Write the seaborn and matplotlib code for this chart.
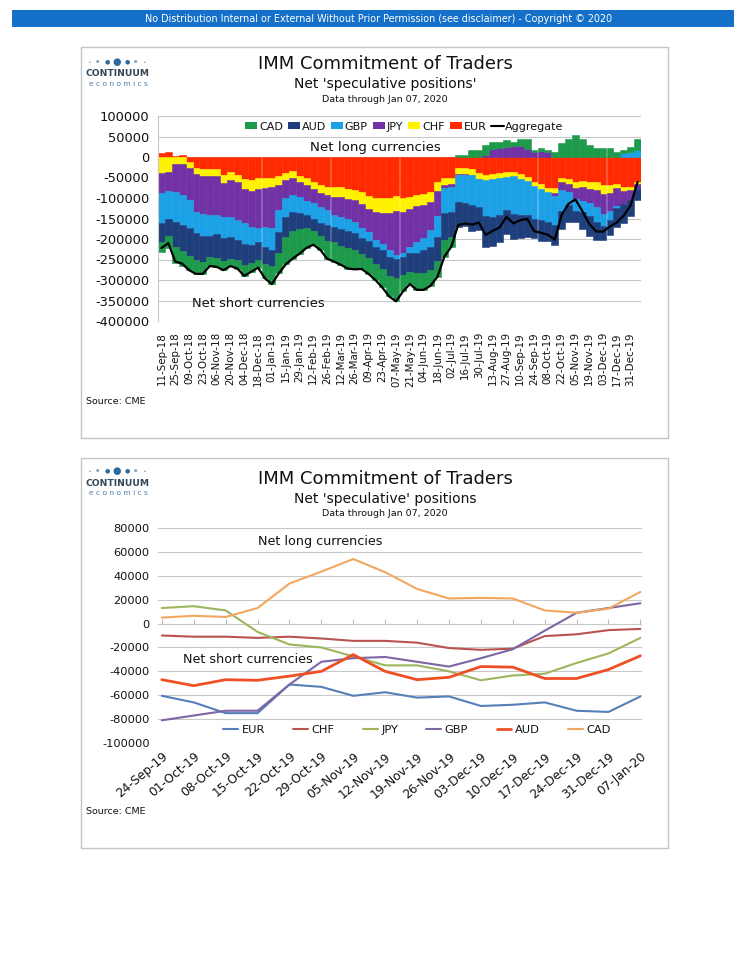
import numpy as np
import pandas as pd
import seaborn as sns
import matplotlib.pyplot as plt
from matplotlib.patches import Rectangle, Patch
from matplotlib.lines import Line2D

sns.set_style("white")
plt.rcParams['font.family'] = ['DejaVu Sans']
plt.rcParams['text.color'] = '#111111'
plt.rcParams['xtick.color'] = '#111111'
plt.rcParams['ytick.color'] = '#111111'

# Net speculative positions, thousands of contracts
# weekly 11-Sep-18 .. 17-Sep-19
eur_early = [10, 12, 3, 6, -12, -26, -30, -30, -30, -44,
             -36, -45, -53, -56, -52, -52, -50, -46, -38, -34,
             -46, -52, -60, -68, -72, -74, -74, -78, -80, -86,
             -96, -101, -101, -101, -96, -100, -98, -92, -90, -85,
             -62, -52, -50, -28, -28, -30, -40, -44, -42, -40,
             -36, -36, -42, -48]
chf_early = [-38, -36, -18, -16, -14, -16, -16, -17, -17, -19,
             -19, -17, -24, -26, -25, -24, -24, -22, -17, -16,
             -16, -16, -17, -20, -21, -24, -24, -25, -26, -28,
             -32, -34, -36, -36, -35, -33, -30, -28, -27, -25,
             -22, -16, -15, -14, -14, -13, -13, -12, -12, -12,
             -12, -11, -11, -10]
jpy_early = [-51, -46, -67, -77, -79, -91, -93, -94, -94, -83,
             -92, -92, -85, -88, -95, -94, -100, -61, -46, -43,
             -36, -39, -36, -33, -36, -43, -48, -47, -52, -60,
             -54, -67, -74, -90, -108, -102, -91, -87, -81, -68,
             -60, -8, -7, -3, -2, -2, -1, 5, 20, 22,
             24, 26, 28, 19]
gbp_early = [-73, -68, -73, -73, -69, -53, -54, -52, -47, -52,
             -47, -48, -49, -45, -35, -50, -52, -55, -45, -40,
             -38, -34, -37, -41, -37, -29, -30, -30, -28, -24,
             -24, -17, -16, -16, -10, -10, -16, -26, -30, -42,
             -50, -60, -62, -65, -68, -72, -68, -88, -92, -90,
             -82, -92, -88, -84]
aud_early = [-45, -43, -62, -64, -68, -66, -62, -52, -58, -56,
             -55, -49, -53, -44, -43, -40, -40, -50, -50, -47,
             -40, -33, -30, -30, -38, -38, -40, -42, -42, -38,
             -40, -42, -45, -47, -47, -42, -45, -50, -55, -56,
             -60, -66, -62, -61, -56, -64, -56, -75, -70, -66,
             -57, -60, -56, -52]
cad_early = [-25, -29, -38, -36, -34, -33, -30, -21, -22, -22,
             -17, -21, -26, -21, -20, -36, -44, -50, -66, -68,
             -60, -48, -34, -34, -44, -47, -47, -50, -46, -37,
             -39, -39, -46, -50, -56, -41, -30, -41, -41, -38,
             -38, -41, -23, 5, 6, 16, 18, 24, 16, 14,
             17, 11, 15, 24]

# weekly 24-Sep-19 .. 07-Jan-20
eur_recent = [-60.5, -66, -75, -75, -51, -53, -60.5, -57.5, -62, -61, -69, -68, -66, -73, -74, -61]
chf_recent = [-10, -11, -11, -12, -11, -12.5, -14.5, -14.5, -16, -20.5, -22, -21, -10.5, -9, -5.5, -4.5]
jpy_recent = [13, 14.5, 11, -7, -17.5, -20, -27.5, -35, -35, -40, -47.5, -43.5, -42, -33, -25, -12]
gbp_recent = [-81, -77, -73, -73, -51, -32, -29, -28, -32, -36, -29, -21.5, -6, 9, 13, 17]
aud_recent = [-47, -52, -47, -47.5, -44, -40, -26, -40, -47, -45, -36, -36.5, -46, -46, -38.5, -27]
cad_recent = [5, 6.5, 5.5, 13, 33.5, 43.5, 54, 43, 29, 21, 21.5, 21, 11, 9, 12.5, 26.5]

weeks = pd.date_range('2018-09-11', periods=70, freq='7D')
recent_weeks = pd.date_range('2019-09-24', periods=16, freq='7D')

stack_order = ['EUR', 'CHF', 'JPY', 'GBP', 'AUD', 'CAD']
bar_colors = {'CAD': '#1E9A4B', 'AUD': '#1F3E7C', 'GBP': '#1DA1E6',
              'JPY': '#7132A6', 'CHF': '#FFF200', 'EUR': '#FF2A00'}
line_colors = {'EUR': '#557FB8', 'CHF': '#B9534F', 'JPY': '#9DB65E',
               'GBP': '#7D66A3', 'AUD': '#EF4F24', 'CAD': '#F2A760'}

top = pd.DataFrame({
    'EUR': np.array(eur_early + eur_recent) * 1000,
    'CHF': np.array(chf_early + chf_recent) * 1000,
    'JPY': np.array(jpy_early + jpy_recent) * 1000,
    'GBP': np.array(gbp_early + gbp_recent) * 1000,
    'AUD': np.array(aud_early + aud_recent) * 1000,
    'CAD': np.array(cad_early + cad_recent) * 1000,
})
top['Aggregate'] = top[stack_order].sum(axis=1)

recent = pd.DataFrame({
    'idx': np.arange(len(recent_weeks)),
    'EUR': np.array(eur_recent) * 1000,
    'CHF': np.array(chf_recent) * 1000,
    'JPY': np.array(jpy_recent) * 1000,
    'GBP': np.array(gbp_recent) * 1000,
    'AUD': np.array(aud_recent) * 1000,
    'CAD': np.array(cad_recent) * 1000,
})
recent_long = recent.melt(id_vars='idx', var_name='Currency', value_name='Position')

W, H = 734, 960
fig = plt.figure(figsize=(W / 100, H / 100), dpi=100)


def px_rect(x0, y0, x1, y1):
    return [x0 / W, 1 - y1 / H, (x1 - x0) / W, (y1 - y0) / H]


def fig_xy(x, y):
    return x / W, 1 - y / H


# header band
fig.patches.append(Rectangle(fig_xy(12, 27), 722 / W, 17 / H, transform=fig.transFigure,
                             facecolor='#1470C8', edgecolor='none', zorder=-2))
fig.text(*fig_xy(379, 18.5), 'No Distribution Internal or External Without Prior Permission '
         '(see disclaimer) - Copyright \u00a9 2020', color='white', fontsize=6.9,
         ha='center', va='center')

# panel frames
for y0, y1 in [(47, 438), (458, 848)]:
    fig.patches.append(Rectangle(fig_xy(81, y1), 587 / W, (y1 - y0) / H, transform=fig.transFigure,
                                 facecolor='none', edgecolor='#C4C4C4', linewidth=1.0, zorder=-1))


def logo(y):
    dot_x = [90, 98, 107, 117, 127, 136, 145]
    dot_s = [1.3, 2.2, 3.4, 5.4, 3.4, 2.2, 1.3]
    for dx, ds in zip(dot_x, dot_s):
        c = '#2B6A9E' if ds > 3 else '#7FA0BF'
        fig.text(*fig_xy(dx, y), '\u25cf', fontsize=ds * 1.3, color=c, ha='center', va='center')
    fig.text(*fig_xy(118, y + 12), 'CONTINUUM', fontsize=6.6, fontweight='bold',
             color='#34465A', ha='center', va='center')
    fig.text(*fig_xy(118, y + 22), 'e c o n o m i c s', fontsize=5.4,
             color='#4F7DA6', ha='center', va='center')


def titles(y, subtitle):
    fig.text(*fig_xy(385, y), 'IMM Commitment of Traders', fontsize=13, ha='center', va='center')
    fig.text(*fig_xy(385, y + 20), subtitle, fontsize=10, ha='center', va='center')
    fig.text(*fig_xy(385, y + 35), 'Data through Jan 07, 2020', fontsize=6.8,
             ha='center', va='center')


logo(62)
titles(64, "Net 'speculative positions'")
logo(471)
titles(479, "Net 'speculative' positions")

# ---------------- top chart: stacked weekly positions ----------------
ax1 = fig.add_axes(px_rect(158, 116, 641, 321))
x = np.arange(len(weeks))
pos_base = np.zeros(len(x))
neg_base = np.zeros(len(x))
for cur in stack_order:
    vals = top[cur].to_numpy()
    base = np.where(vals >= 0, pos_base, neg_base)
    ax1.bar(x, vals, bottom=base, width=1.0, color=bar_colors[cur],
            edgecolor=bar_colors[cur], linewidth=0.4, zorder=2)
    pos_base = pos_base + np.clip(vals, 0, None)
    neg_base = neg_base + np.clip(vals, None, 0)
sns.lineplot(x=x, y=top['Aggregate'].to_numpy(), ax=ax1, color='black', linewidth=1.6, zorder=3)

ax1.set_xlim(-0.5, len(x) - 0.5)
ax1.set_ylim(-400000, 100000)
ax1.set_yticks(np.arange(-400000, 100001, 50000))
ax1.set_yticklabels([f'{v:d}' for v in np.arange(-400000, 100001, 50000)], fontsize=9.4)
ax1.set_xticks(x[::2])
ax1.set_xticklabels([d.strftime('%d-%b-%y') for d in weeks[::2]], rotation=90, fontsize=7.4)
ax1.tick_params(axis='y', length=0, pad=6)
ax1.tick_params(axis='x', length=0, pad=8)
ax1.grid(axis='y', color='#C8C8C8', linewidth=0.8, zorder=0)
ax1.set_axisbelow(True)
for s in ['top', 'right', 'bottom']:
    ax1.spines[s].set_visible(False)
ax1.spines['left'].set_color('#C8C8C8')
ax1.set_xlabel('')
ax1.set_ylabel('')

leg_order = ['CAD', 'AUD', 'GBP', 'JPY', 'CHF', 'EUR']
handles = [Patch(facecolor=bar_colors[c], edgecolor='none') for c in leg_order]
handles.append(Line2D([], [], color='black', linewidth=1.5))
ax1.legend(handles, leg_order + ['Aggregate'], loc='upper center', bbox_to_anchor=(0.51, 1.0),
           ncol=7, frameon=False, fontsize=8, handlelength=1.1, handleheight=0.6,
           handletextpad=0.15, columnspacing=0.45, borderaxespad=0.1)
ax1.text(31, 24000, 'Net long currencies', fontsize=9.6, ha='center', va='center', zorder=4)
ax1.text(14, -357000, 'Net short currencies', fontsize=9.4, ha='center', va='center', zorder=4)
fig.text(*fig_xy(86, 402), 'Source: CME', fontsize=6.8, va='center')

# ---------------- bottom chart: last 16 weeks by currency ----------------
ax2 = fig.add_axes(px_rect(158, 528, 642, 743))
for cur in stack_order:
    sub = recent_long[recent_long['Currency'] == cur]
    sns.lineplot(data=sub, x='idx', y='Position', ax=ax2, color=line_colors[cur],
                 linewidth=2.0 if cur == 'AUD' else 1.5, label=cur, zorder=3)
ax2.set_xlim(-0.12, len(recent_weeks) - 0.95)
ax2.set_ylim(-100000, 80000)
ax2.set_yticks(np.arange(-100000, 80001, 20000))
ax2.set_yticklabels([f'{v:d}' for v in np.arange(-100000, 80001, 20000)], fontsize=8.2)
ax2.set_xticks(np.arange(len(recent_weeks)))
ax2.set_xticklabels([d.strftime('%d-%b-%y') for d in recent_weeks], rotation=40,
                    ha='right', rotation_mode='anchor', fontsize=8.8)
ax2.tick_params(axis='y', length=0, pad=6)
ax2.tick_params(axis='x', length=0, pad=5)
ax2.grid(axis='y', color='#C8C8C8', linewidth=0.8, zorder=0)
ax2.set_axisbelow(True)
for s in ['top', 'right', 'bottom', 'left']:
    ax2.spines[s].set_visible(False)
ax2.set_xlabel('')
ax2.set_ylabel('')
zero_axis = ax2.secondary_xaxis(100000 / 180000)
zero_axis.set_xticks(np.arange(len(recent_weeks)))
zero_axis.set_xticklabels([])
zero_axis.tick_params(direction='out', length=3.5, color='#BDBDBD', width=0.8)
zero_axis.spines['bottom'].set_visible(False)
zero_axis.spines['top'].set_visible(False)

ax2.legend(loc='lower center', bbox_to_anchor=(0.535, -0.01), ncol=6, frameon=False,
           fontsize=8.2, handlelength=1.3, handletextpad=0.3, columnspacing=2.5)
ax2.text(4.95, 69000, 'Net long currencies', fontsize=9.2, ha='center', va='center')
ax2.text(2.7, -30000, 'Net short currencies', fontsize=9.2, ha='center', va='center')
fig.text(*fig_xy(86, 811), 'Source: CME', fontsize=6.8, va='center')

fig.savefig('out.png', dpi=100)
